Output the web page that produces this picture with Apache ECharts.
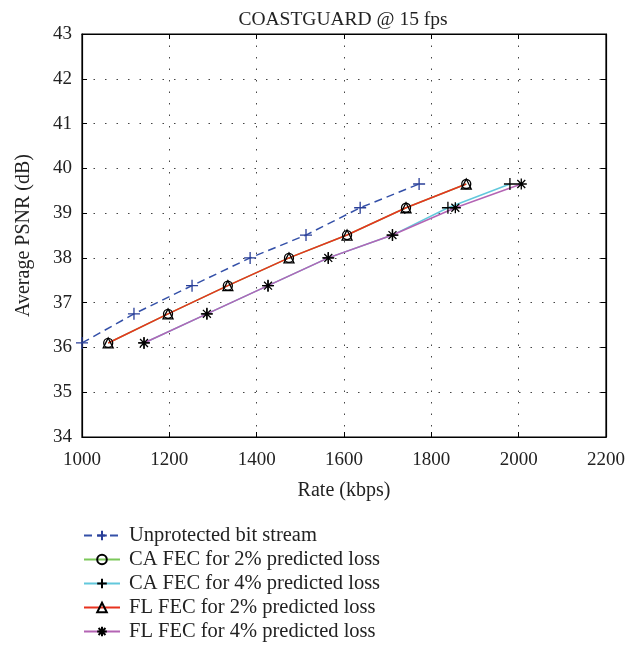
<!DOCTYPE html>
<html><head><meta charset="utf-8">
<script src="https://cdn.jsdelivr.net/npm/echarts@6/dist/echarts.min.js"></script>
<style>html,body{margin:0;padding:0;background:#fff}#c{width:640px;height:645px}</style>
</head><body><div id="c"></div>
<script>
const seriesNames = ["Unprotected bit stream","CA FEC for 2% predicted loss","CA FEC for 4% predicted loss","FL FEC for 2% predicted loss","FL FEC for 4% predicted loss"];
const unprotX = [1000, 1119, 1252, 1385, 1513, 1637, 1772];
const unprotY = [36.1, 36.75, 37.38, 38.0, 38.51, 39.12, 39.65];
const ca2X = [1060, 1197, 1334, 1474, 1607, 1742, 1880];
const ca2Y = [36.1, 36.75, 37.38, 38.0, 38.51, 39.12, 39.65];
const ca4X = [1142, 1286, 1426, 1564, 1711, 1838, 1980];
const ca4Y = [36.1, 36.75, 37.38, 38.0, 38.51, 39.12, 39.65];
const fl2X = [1060, 1197, 1334, 1474, 1607, 1742, 1880];
const fl2Y = [36.1, 36.75, 37.38, 38.0, 38.51, 39.12, 39.65];
const fl4X = [1142, 1286, 1426, 1564, 1711, 1855, 2006];
const fl4Y = [36.1, 36.75, 37.38, 38.0, 38.51, 39.12, 39.65];
const xTicks = [1000, 1200, 1400, 1600, 1800, 2000, 2200];
const yTicks = [34, 35, 36, 37, 38, 39, 40, 41, 42, 43];

const zip = (a, b) => a.map((v, i) => [v, b[i]]);
const FONT = '"Liberation Serif", "DejaVu Serif", serif';
const plus = 'path://M0,-1L0,1M-1,0L1,0';
const star = 'path://M0,-1L0,1M-1,0L1,0M-0.72,-0.72L0.72,0.72M-0.72,0.72L0.72,-0.72';

function mk(name, data, color, dashed, symbol, size, symColor) {
  return {
    name, type: 'line', data, clip: false,
    symbol, symbolSize: size, showAllSymbol: true,
    lineStyle: { color, width: 1.5, type: dashed ? [8, 5] : 'solid' },
    itemStyle: { color: 'rgba(0,0,0,0)', borderColor: symColor, borderWidth: 1.3 },
    emphasis: { disabled: true },
    z: 2
  };
}

const chart = echarts.init(document.getElementById('c'), null, { renderer: 'canvas' });
const axisCommon = {
  axisLine: { show: true, lineStyle: { color: '#000', width: 1.2 } },
  axisTick: { show: true, inside: true, length: 5, lineStyle: { color: '#000' } },
};
const lbl = { fontFamily: FONT, fontSize: 19, color: '#222' };
chart.setOption({
  animation: false,
  backgroundColor: '#fff',
  textStyle: { fontFamily: FONT },
  title: {
    text: 'COASTGUARD @ 15 fps', left: 338, textAlign: 'center', top: 5,
    textStyle: { fontFamily: FONT, fontSize: 19.5, fontWeight: 'normal', color: '#222' }
  },
  grid: { left: 82, right: 34, top: 34, bottom: 208, show: true, borderColor: '#000', borderWidth: 1.2,
          outerBoundsMode: 'none', containLabel: false },
  legend: {
    orient: 'vertical', left: 78, top: 520, itemWidth: 36, itemHeight: 12, itemGap: 3, height: 130,
    data: seriesNames,
    textStyle: { fontFamily: FONT, fontSize: 20.5, lineHeight: 20, height: 20, color: '#222', padding: [0, 0, 0, 4] }
  },
  xAxis: [{
    type: 'value', min: 1000, max: 2200, interval: 200,
    name: 'Rate (kbps)', nameLocation: 'middle', nameGap: 44,
    nameTextStyle: { fontFamily: FONT, fontSize: 20, color: '#222' },
    axisLabel: { ...lbl, margin: 14, formatter: v => String(v) },
    splitLine: { show: true, lineStyle: { color: '#444', width: 1, type: [1.5, 10] } },
    ...axisCommon
  }, {
    type: 'value', min: 1000, max: 2200, interval: 200, position: 'top',
    axisLabel: { show: false }, splitLine: { show: false }, ...axisCommon
  }],
  yAxis: [{
    type: 'value', min: 34, max: 43, interval: 1,
    name: 'Average PSNR (dB)', nameLocation: 'middle', nameGap: 48, nameRotate: 90,
    nameTextStyle: { fontFamily: FONT, fontSize: 20, color: '#222' },
    axisLabel: { ...lbl, margin: 10, formatter: v => String(v) },
    splitLine: { show: true, lineStyle: { color: '#444', width: 1, type: [1.5, 10] } },
    ...axisCommon
  }, {
    type: 'value', min: 34, max: 43, interval: 1, position: 'right',
    axisLabel: { show: false }, splitLine: { show: false }, ...axisCommon
  }],
  series: [
    mk(seriesNames[0], zip(unprotX, unprotY), '#3450a8', true, plus, 12, '#2a3f98'),
    mk(seriesNames[1], zip(ca2X, ca2Y), '#7cc85a', false, 'circle', 9, '#000'),
    mk(seriesNames[2], zip(ca4X, ca4Y), '#62c8dc', false, plus, 12, '#000'),
    mk(seriesNames[3], zip(fl2X, fl2Y), '#e8321e', false, 'triangle', 10, '#000'),
    mk(seriesNames[4], zip(fl4X, fl4Y), '#b464b4', false, star, 11, '#000')
  ]
});
</script></body></html>
